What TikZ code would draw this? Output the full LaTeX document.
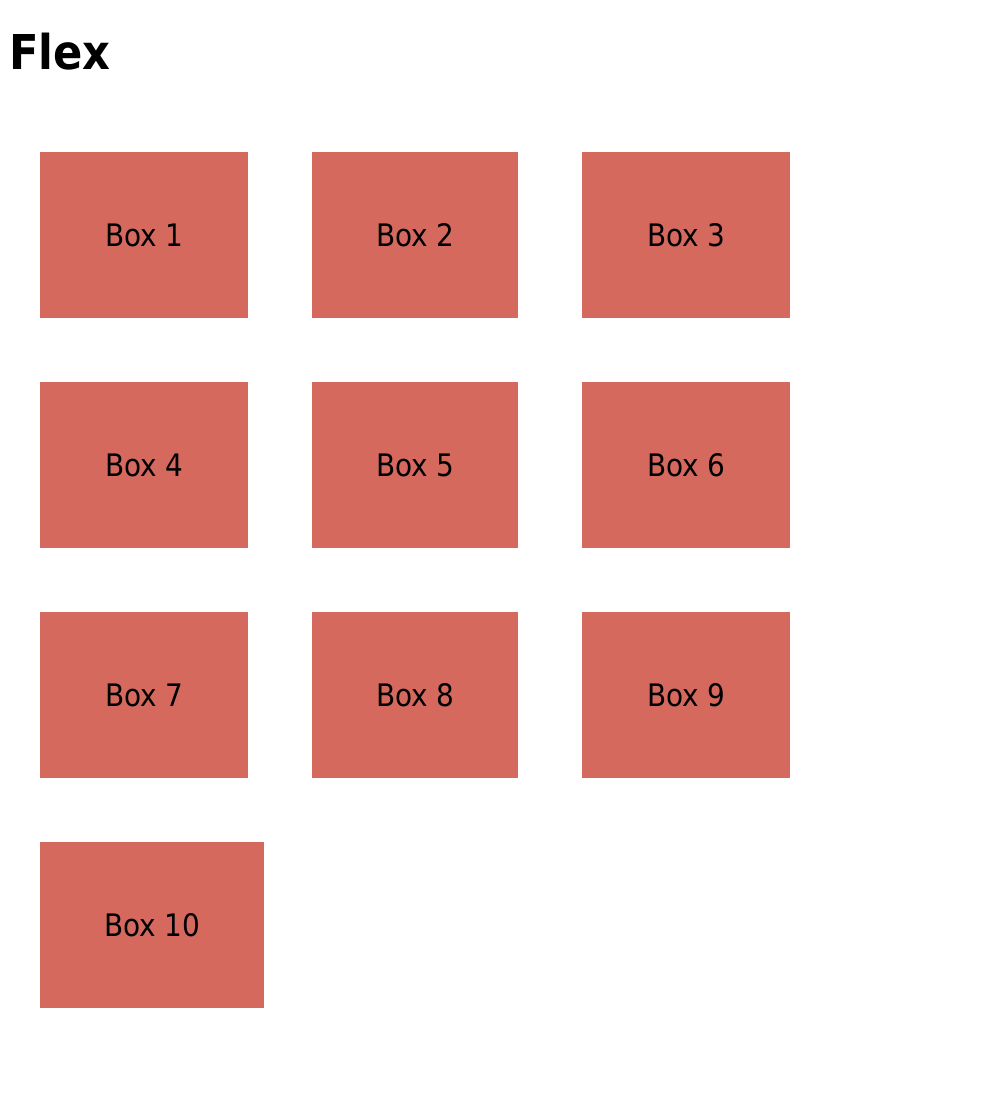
\documentclass[tikz,border=0pt]{standalone}
\usepackage{fontspec}
\setmainfont{DejaVu Sans Condensed}
\usetikzlibrary{calc}
\definecolor{boxred}{RGB}{213,105,94}
\tikzset{
  flexbox/.style={fill=boxred, draw=none, inner sep=0pt},
  boxlabel/.style={font=\fontsize{31}{31}\selectfont, text=black, anchor=base, inner sep=0pt},
}
\begin{document}
\begin{tikzpicture}[x=1pt,y=-1pt]
\useasboundingbox[fill=white] (0,0) rectangle (982,1094);
\node[anchor=base west, inner sep=0pt, font=\fontsize{48}{48}\selectfont\bfseries] (title) at (9,70) {Flex};
\foreach \r/\y in {0/152,1/382,2/612}{
  \foreach \c/\x/\w in {0/40/208,1/312/206,2/582/208}{
    \pgfmathtruncatemacro{\n}{3*\r+\c+1}
    \node[flexbox, minimum width=\w pt, minimum height=166pt, anchor=north west] (box\n) at (\x,\y) {};
    \node[boxlabel] (lab\n) at ($(box\n.center)+(0,11)$) {Box \n};
  }
}
\node[flexbox, minimum width=224pt, minimum height=166pt, anchor=north west] (box10) at (40,842) {};
\node[boxlabel] (lab10) at ($(box10.center)+(0,11)$) {Box 10};
\end{tikzpicture}
\end{document}
